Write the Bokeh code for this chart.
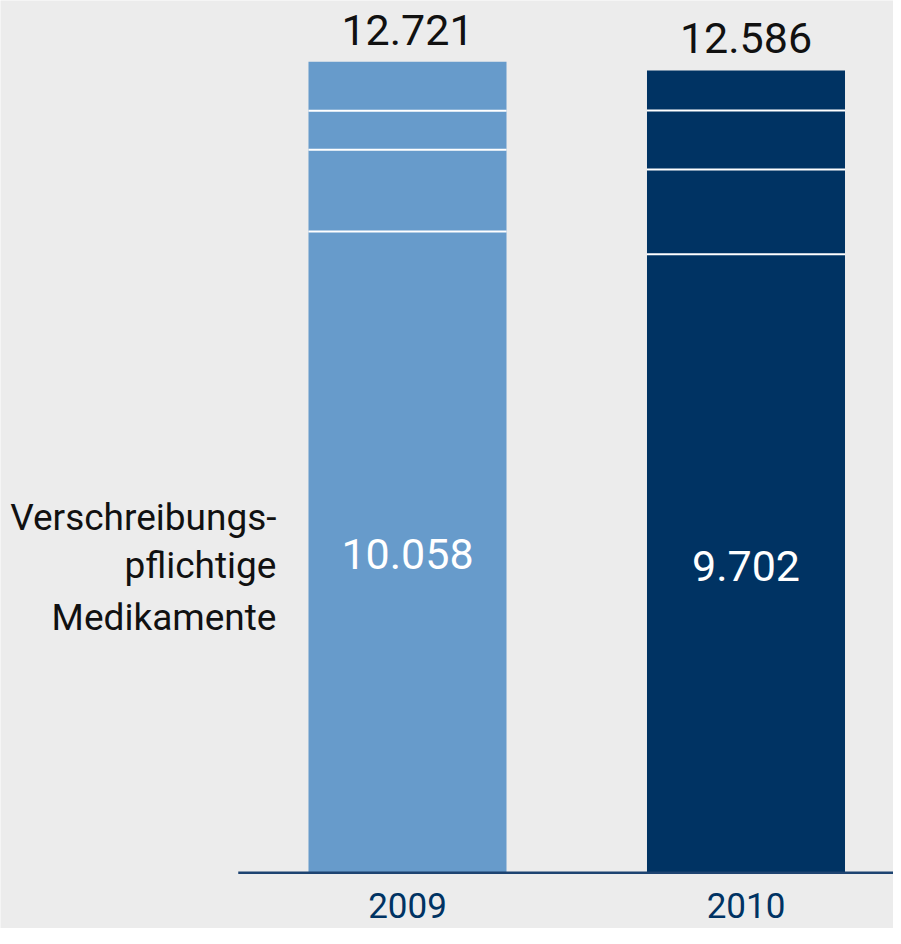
import numpy as np
from bokeh.plotting import figure
from bokeh.models import ColumnDataSource, Range1d
from bokeh.core.properties import value
from bokeh.embed import file_html
from bokeh.resources import INLINE

# ---- data ----
years = ["2009", "2010"]
rx_drugs = [10058, 9702]      # Verschreibungspflichtige Medikamente
segment_2 = [1283, 1330]
segment_3 = [611, 925]
segment_4 = [769, 629]
totals = [12721, 12586]
bar_colors = ["#679bcb", "#003363"]
category_label = ["Verschreibungs-", "pflichtige", "Medikamente"]

FONT = value("Roboto")
BG = "#ececec"

def de(v):
    return f"{v:,}".replace(",", ".")

# ---- layout ----
W, H = 893, 928
px_per_x = 338.5
px_per_y = 811 / 12721
bar_w = 0.585
xs = np.arange(len(years), dtype=float)
SHIFT = -16  # compensation for baseline rendering

x0 = -407 / px_per_x
y_top = 872.3 / px_per_y

p = figure(width=W, height=H, output_backend="svg", toolbar_location=None,
           x_range=Range1d(x0, x0 + W / px_per_x),
           y_range=Range1d(y_top - H / px_per_y, y_top),
           x_axis_type=None, y_axis_type=None, min_border=0)
p.background_fill_color = BG
p.border_fill_color = BG
p.outline_line_color = None
p.grid.visible = False

stacks = np.array([rx_drugs, segment_2, segment_3, segment_4], dtype=float)
cum = np.cumsum(stacks, axis=0)
bottoms = cum - stacks

seg_x, seg_b, seg_t, seg_c = [], [], [], []
for j in range(len(years)):
    for i in range(stacks.shape[0]):
        seg_x.append(xs[j]); seg_b.append(bottoms[i, j]); seg_t.append(cum[i, j])
        seg_c.append(bar_colors[j])
src = ColumnDataSource(dict(x=seg_x, bottom=seg_b, top=seg_t, color=seg_c))
p.vbar(x="x", bottom="bottom", top="top", width=bar_w, fill_color="color",
       line_color=None, source=src)

# white separators between segments
sx0, sx1, sy = [], [], []
for j in range(len(years)):
    for i in range(stacks.shape[0] - 1):
        sx0.append(xs[j] - bar_w / 2); sx1.append(xs[j] + bar_w / 2); sy.append(cum[i, j])
p.segment(x0=sx0, y0=sy, x1=sx1, y1=sy, line_color="white", line_width=2)

# baseline
p.segment(x0=[xs[0] - 0.5], y0=[0], x1=[xs[-1] + 1.5], y1=[0],
          line_color="#1d4371", line_width=2.5)

# totals
p.text(x=xs, y=totals, text=[de(v) for v in totals], text_font=FONT,
       text_font_size="43px", text_color="#111111", text_align="center",
       text_baseline="alphabetic", y_offset=-16 + SHIFT)

# inner values
p.text(x=xs, y=[v / 2 for v in rx_drugs], text=[de(v) for v in rx_drugs], text_font=FONT,
       text_font_size="43px", text_color="white", text_align="center",
       text_baseline="alphabetic", y_offset=18.3 + SHIFT)

# category label
lx = xs[0] - bar_w / 2 - 32 / px_per_x
p.text(x=[lx] * 3, y=[rx_drugs[0] / 2] * 3, text=category_label, text_font=FONT,
       text_font_size="37px", text_color="#111111", text_align="right",
       text_baseline="alphabetic", y_offset=[v + SHIFT for v in (-19, 29.5, 81.5)])

# years
p.text(x=xs, y=[0, 0], text=years, text_font=FONT, text_font_size="35px",
       text_color="#003363", text_align="center", text_baseline="alphabetic",
       y_offset=49 + SHIFT)

open("out.html", "w").write(file_html(p, INLINE))
